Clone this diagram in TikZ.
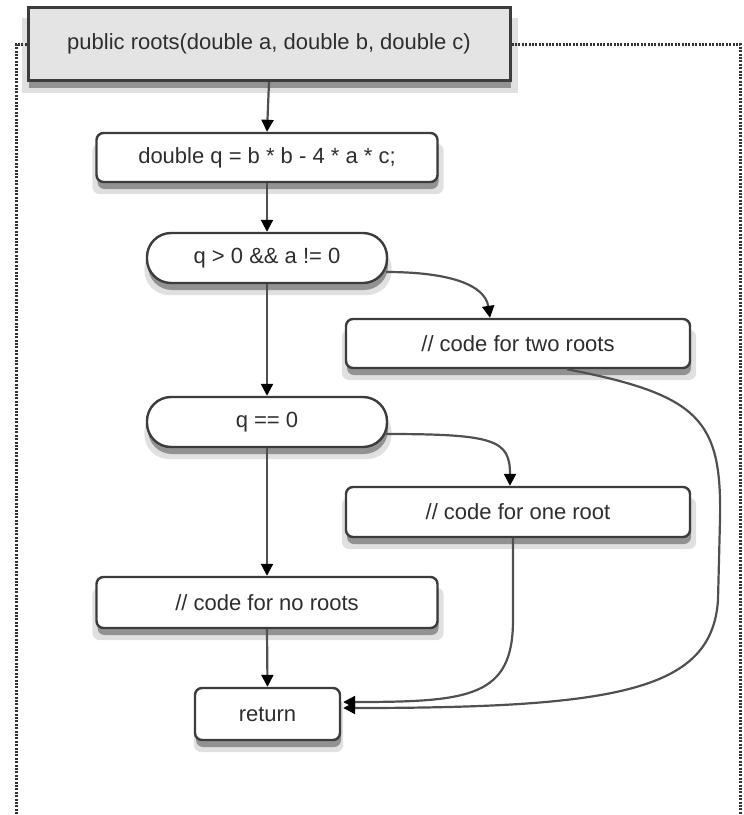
\documentclass[tikz,border=0pt]{standalone}
\usepackage{fontspec}
\setmainfont{Liberation Sans}
\usetikzlibrary{arrows.meta,shadows,calc}
\definecolor{edgegray}{HTML}{3C3C3C}
\definecolor{linegray}{HTML}{505050}
\definecolor{txtgray}{HTML}{2E2E2E}
\definecolor{topfill}{HTML}{E4E4E4}
\tikzset{
  softshadow/.style={
    drop shadow={shadow xshift=1pt, shadow yshift=-11pt, opacity=.12, fill=black, shadow scale=1.03},
    drop shadow={shadow xshift=1pt, shadow yshift=-7pt, opacity=.35, fill=black}},
  procbox/.style={draw=edgegray, line width=2.4pt, fill=white, rounded corners=7pt,
    softshadow, text=txtgray, font=\fontsize{22}{26}\selectfont, inner sep=0pt},
  decbox/.style={procbox, rounded corners=24pt},
  headbox/.style={draw=edgegray, line width=3pt, fill=topfill, softshadow,
    text=txtgray, font=\fontsize{22}{26}\selectfont, inner sep=0pt},
  flow/.style={draw=linegray, line width=2.2pt, -{Triangle[length=12pt,width=12pt,color=black]}},
  frame/.style={draw=black!80, line width=3pt, dash pattern=on 2pt off 1.4pt}
}
\begin{document}
\begin{tikzpicture}[x=1pt,y=-1pt]
\useasboundingbox (0,0) rectangle (744,815);
% nodes
\node[headbox, minimum width=482pt, minimum height=73pt] (top) at (269,44) {public roots(double a, double b, double c)};
\node[procbox, minimum width=341pt, minimum height=49pt] (q) at (267,157.5) {double q = b * b - 4 * a * c;};
\node[decbox, minimum width=240pt, minimum height=50pt] (d1) at (267,258) {q > 0 \&\& a != 0};
\node[procbox, minimum width=344pt, minimum height=49pt] (two) at (518,343.5) {// code for two roots};
\node[decbox, minimum width=240pt, minimum height=50pt] (d2) at (267,422) {q == 0};
\node[procbox, minimum width=344pt, minimum height=50pt] (one) at (518,512) {// code for one root};
\node[procbox, minimum width=341pt, minimum height=51pt] (no) at (267,602.5) {// code for no roots};
\node[procbox, minimum width=145pt, minimum height=52pt] (ret) at (267.5,714) {return};
% dotted frame
\coordinate (fl) at (16,44);
\coordinate (fr) at (740,44);
\coordinate (flb) at (16,815);
\coordinate (frb) at (740,815);
\draw[frame] (top.west) -- (fl) -- (flb);
\draw[frame] (top.east) -- (fr) -- (frb);
% straight connectors
\draw[flow] (top.south) -- (q.north);
\draw[flow] (q.south) -- (d1.north);
\draw[flow] (d1.south) -- (d2.north);
\draw[flow] (d2.south) -- (no.north);
\draw[flow] (no.south) -- (ret.north);
% curved connectors
\draw[flow] ($(d1.east)+(-2,14)$) .. controls (450,272) and (485,285) .. ($(two.north)+(-28,0)$);
\draw[flow] ($(d2.east)+(-2,12)$) .. controls (495,434) and (510,440) .. ($(one.north)+(-8,0)$);
\draw[flow] ($(one.south)+(-5,0)$) -- (513,620) .. controls (513,697) and (470,702) .. ($(ret.east)+(2,-12)$);
\draw[flow] ($(two.south)+(49,0)$) .. controls (700,395) and (722,420) .. (720,520) -- (718,600) .. controls (712,690) and (620,708) .. ($(ret.east)+(2,-6)$);
\end{tikzpicture}
\end{document}
